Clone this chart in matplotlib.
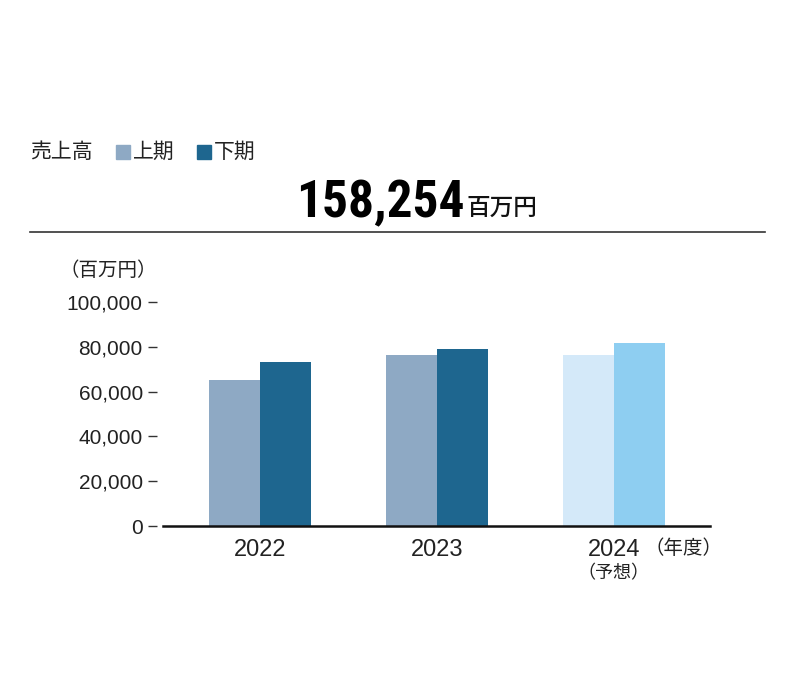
import matplotlib
matplotlib.use("Agg")
import matplotlib.pyplot as plt
from matplotlib.patches import Rectangle
from matplotlib.ticker import FuncFormatter

years = ["2022", "2023", "2024"]
first_half = [65300, 76300, 76300]
second_half = [73300, 79200, 81900]
first_colors = ["#8EA9C4", "#8EA9C4", "#D4E9F9"]
second_colors = ["#1E668F", "#1E668F", "#8ECEF1"]
yticks = [0, 20000, 40000, 60000, 80000, 100000]
total_label = "158,254"

JP = ["Noto Sans CJK JP", "DejaVu Sans"]
NUM = ["Liberation Sans", "Noto Sans CJK JP"]
BIG = ["Roboto Condensed", "Archivo Narrow", "PT Sans Narrow", "DejaVu Sans"]

fig = plt.figure(figsize=(8, 7), dpi=100)
ax = fig.add_axes([163/800, 1-526/700, (710-163)/800, 224/700])

x = list(range(len(years)))
w = 0.288
ax.bar([i - w/2 for i in x], first_half, width=w, color=first_colors, linewidth=0)
ax.bar([i + w/2 for i in x], second_half, width=w, color=second_colors, linewidth=0)

ax.set_xlim(-0.548, 2.542)
ax.set_ylim(0, 100000)
ax.set_yticks(yticks)
ax.yaxis.set_major_formatter(FuncFormatter(lambda v, p: f"{int(v):,}"))
for s in ["top", "right"]:
    ax.spines[s].set_visible(False)
ax.spines["left"].set_visible(False)
ax.spines["left"].set_position(("outward", 4.5))
ax.spines["bottom"].set_linewidth(1.8)
ax.spines["bottom"].set_color("#111111")
ax.tick_params(axis="y", length=6.5, width=1.0, color="#333333", pad=3.5,
               labelsize=15, labelcolor="#222222")
ax.set_xticks(x)
ax.set_xticklabels(years)
ax.tick_params(axis="x", length=0, pad=9, labelsize=17, labelcolor="#222222")
for lab in ax.get_yticklabels() + ax.get_xticklabels():
    lab.set_family(NUM)

fig.text(613/800, 1-573/700, "（予想）", ha="center", va="center",
         fontsize=13, family=JP, color="#222222")
fig.text(683/800, 1-549/700, "（年度）", ha="center", va="center", fontsize=14, family=JP, color="#222222")
fig.text(108/800, 1-270/700, "（百万円）", ha="center", va="center", fontsize=14, family=JP, color="#222222")

# header
fig.text(30/800, 1-152/700, "売上高", ha="left", va="center", fontsize=15, family=JP, color="#222222")
fig.patches.append(Rectangle((116/800, 1-159/700), 14/800, 14/700, transform=fig.transFigure,
                             color="#8EA9C4", figure=fig))
fig.text(133/800, 1-152/700, "上期", ha="left", va="center", fontsize=15, family=JP, color="#222222")
fig.patches.append(Rectangle((197/800, 1-159/700), 14/800, 14/700, transform=fig.transFigure,
                             color="#1E668F", figure=fig))
fig.text(214/800, 1-152/700, "下期", ha="left", va="center", fontsize=15, family=JP, color="#222222")

fig.text(465/800, 1-217/700, total_label, ha="right", va="baseline", fontsize=37,
         fontweight="heavy", family=BIG, color="#000000")
fig.text(467/800, 1-215/700, "百万円", ha="left", va="baseline", fontsize=17,
         fontweight="medium", family=JP, color="#111111")

fig.add_artist(plt.Line2D([30/800, 765/800], [1-232/700, 1-232/700], transform=fig.transFigure,
                          color="#333333", linewidth=1.2))

fig.savefig("out.png", dpi=100)
